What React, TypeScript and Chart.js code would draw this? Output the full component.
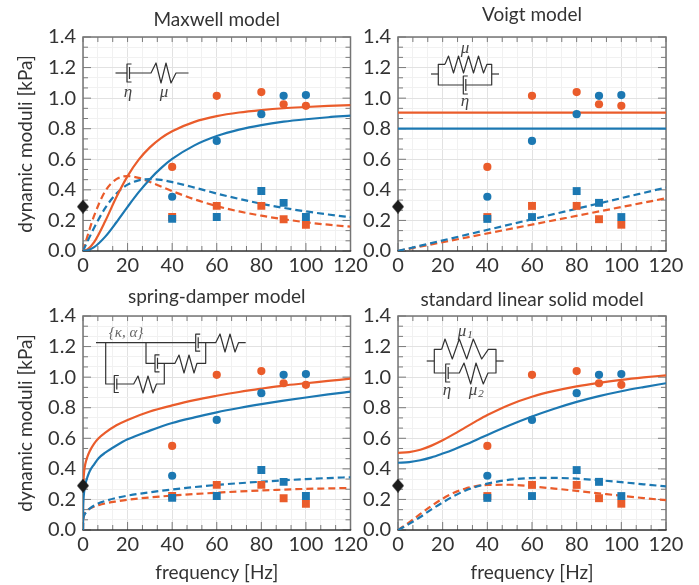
import React, { useEffect, useRef } from "react";
import { Chart, registerables } from "chart.js";

Chart.register(...registerables);

const BLUE = "#1c78b2";
const ORANGE = "#ea5c2b";
const TEXT = "#333333";
const FONT = "Lato";

const freqMarkers = [40, 60, 80, 90, 100];
const storageBlue = [0.355, 0.72, 0.895, 1.015, 1.02];
const storageOrange = [0.55, 1.015, 1.04, 0.96, 0.95];
const lossBlue = [0.21, 0.222, 0.392, 0.315, 0.222];
const lossOrange = [0.222, 0.295, 0.295, 0.208, 0.172];
const referenceFreq = [0];
const referenceValue = [0.29];

const freqMaxwell = [0, 2, 5, 10, 15, 20, 25, 30, 35, 40, 50, 60, 70, 80, 90, 100, 110, 120];
const maxwellStorageBlue = [0, 0.004, 0.025, 0.094, 0.188, 0.289, 0.385, 0.47, 0.542, 0.602, 0.691, 0.752, 0.794, 0.824, 0.846, 0.862, 0.875, 0.885];
const maxwellLossBlue = [0, 0.062, 0.152, 0.282, 0.376, 0.434, 0.462, 0.47, 0.465, 0.451, 0.415, 0.376, 0.341, 0.309, 0.282, 0.259, 0.239, 0.221];
const maxwellStorageOrange = [0, 0.01, 0.058, 0.196, 0.353, 0.49, 0.598, 0.678, 0.739, 0.784, 0.845, 0.882, 0.906, 0.922, 0.934, 0.942, 0.949, 0.954];
const maxwellLossOrange = [0, 0.097, 0.231, 0.392, 0.47, 0.49, 0.478, 0.452, 0.422, 0.392, 0.338, 0.294, 0.259, 0.231, 0.208, 0.188, 0.172, 0.159];

const freqVoigt = [0, 120];
const voigtStorageBlue = [0.8, 0.8];
const voigtLossBlue = [0, 0.415];
const voigtStorageOrange = [0.905, 0.905];
const voigtLossOrange = [0, 0.345];

const freqSpring = [0, 0.05, 0.1, 0.2, 0.5, 1, 2, 3, 5, 7, 10, 15, 20, 30, 40, 50, 60, 70, 80, 90, 100, 110, 120];
const springStorageBlue = [0, 0.14, 0.17, 0.2, 0.25, 0.294, 0.347, 0.385, 0.43, 0.47, 0.506, 0.553, 0.593, 0.65, 0.7, 0.737, 0.77, 0.798, 0.823, 0.846, 0.867, 0.887, 0.905];
const springStorageOrange = [0, 0.25, 0.29, 0.325, 0.38, 0.43, 0.48, 0.515, 0.565, 0.6, 0.637, 0.685, 0.72, 0.775, 0.815, 0.85, 0.878, 0.903, 0.925, 0.945, 0.96, 0.975, 0.99];
const springLossBlue = [0, 0.05, 0.065, 0.078, 0.095, 0.108, 0.127, 0.14, 0.16, 0.175, 0.19, 0.21, 0.225, 0.247, 0.265, 0.281, 0.295, 0.306, 0.316, 0.325, 0.333, 0.34, 0.345];
const springLossOrange = [0, 0.05, 0.065, 0.078, 0.098, 0.115, 0.13, 0.14, 0.153, 0.163, 0.174, 0.187, 0.198, 0.213, 0.225, 0.235, 0.244, 0.252, 0.259, 0.264, 0.269, 0.272, 0.275];

const freqSls = [0, 5, 10, 15, 20, 25, 30, 35, 40, 50, 60, 70, 80, 90, 100, 110, 120];
const slsStorageBlue = [0.44, 0.444, 0.456, 0.475, 0.5, 0.527, 0.557, 0.589, 0.622, 0.685, 0.742, 0.793, 0.838, 0.876, 0.908, 0.935, 0.96];
const slsStorageOrange = [0.505, 0.51, 0.525, 0.552, 0.587, 0.627, 0.67, 0.712, 0.752, 0.82, 0.872, 0.91, 0.94, 0.963, 0.982, 0.998, 1.012];
const slsLossBlue = [0, 0.04, 0.085, 0.135, 0.18, 0.222, 0.257, 0.283, 0.303, 0.329, 0.34, 0.341, 0.336, 0.326, 0.313, 0.299, 0.285];
const slsLossOrange = [0, 0.05, 0.105, 0.158, 0.205, 0.243, 0.27, 0.287, 0.295, 0.296, 0.285, 0.271, 0.256, 0.24, 0.224, 0.209, 0.195];

const xTicks = [0, 20 / 3, 40 / 3, 20, 80 / 3, 100 / 3, 40, 140 / 3, 160 / 3, 60, 200 / 3, 220 / 3, 80, 260 / 3, 280 / 3, 100, 320 / 3, 340 / 3, 120];
const yTicks = [0, 0.0667, 0.1333, 0.2, 0.2667, 0.3333, 0.4, 0.4667, 0.5333, 0.6, 0.6667, 0.7333, 0.8, 0.8667, 0.9333, 1.0, 1.0667, 1.1333, 1.2, 1.2667, 1.3333, 1.4];

const isMajorX = (v: number) => Math.abs(v / 20 - Math.round(v / 20)) < 1e-6;
const isMajorY = (v: number) => Math.abs(v / 0.2 - Math.round(v / 0.2)) < 1e-3;

const pts = (xs: number[], ys: number[]) => xs.map((x, i) => ({ x, y: ys[i] }));

const line = (xs: number[], ys: number[], color: string, dashed: boolean) => ({
  data: pts(xs, ys),
  showLine: true,
  borderColor: color,
  borderWidth: 2.2,
  borderDash: dashed ? [7, 4] : [],
  pointRadius: 0,
  tension: xs.length > 2 ? 0.4 : 0,
  cubicInterpolationMode: "monotone",
  order: 10,
});

function diamondImage() {
  const c = document.createElement("canvas");
  c.width = 12;
  c.height = 14;
  const g = c.getContext("2d") as CanvasRenderingContext2D;
  g.fillStyle = "#1c1c1c";
  g.beginPath();
  g.moveTo(6, 0);
  g.lineTo(12, 7);
  g.lineTo(6, 14);
  g.lineTo(0, 7);
  g.closePath();
  g.fill();
  return c;
}

const markerSets = () => [
  { data: pts(referenceFreq, referenceValue), pointStyle: diamondImage(), pointRadius: 6, clip: false, order: 0 },
  { data: pts(freqMarkers, storageBlue), pointStyle: "circle", pointRadius: 4.1, backgroundColor: BLUE, borderWidth: 0, order: 1 },
  { data: pts(freqMarkers, storageOrange), pointStyle: "circle", pointRadius: 4.1, backgroundColor: ORANGE, borderWidth: 0, order: 2 },
  { data: pts(freqMarkers, lossBlue), pointStyle: "rect", pointRadius: 5.6, backgroundColor: BLUE, borderWidth: 0, order: 1 },
  { data: pts(freqMarkers, lossOrange), pointStyle: "rect", pointRadius: 5.6, backgroundColor: ORANGE, borderWidth: 0, order: 2 },
];

type P = [number, number];

function stroke(ctx: CanvasRenderingContext2D, points: P[]) {
  ctx.beginPath();
  points.forEach((p, i) => (i ? ctx.lineTo(p[0], p[1]) : ctx.moveTo(p[0], p[1])));
  ctx.stroke();
}

function damper(ctx: CanvasRenderingContext2D, x: number, y: number, h: number) {
  stroke(ctx, [[x + 4.5, y - h], [x, y - h], [x, y + h], [x + 4.5, y + h]]);
  stroke(ctx, [[x + 2.5, y - h + 3], [x + 2.5, y + h - 3]]);
}

function label(ctx: CanvasRenderingContext2D, text: string, x: number, y: number, size = 17, color = "#444444") {
  ctx.font = `italic ${size}px "Liberation Serif"`;
  ctx.fillStyle = color;
  ctx.textAlign = "center";
  ctx.textBaseline = "middle";
  ctx.fillText(text, x, y);
}

const schematics: Record<string, (c: CanvasRenderingContext2D) => void> = {
  maxwell(c) {
    stroke(c, [[115.5, 73], [127, 73]]);
    damper(c, 127, 73, 9);
    stroke(c, [[129.5, 73], [151, 73], [156, 63], [161, 83], [166, 63], [171, 83], [176, 73], [188.5, 73]]);
    label(c, "η", 128, 93);
    label(c, "μ", 164, 93);
  },
  voigt(c) {
    stroke(c, [[431, 74], [438.3, 74]]);
    stroke(c, [[491.7, 74], [499, 74]]);
    stroke(c, [[445, 64.3], [438.3, 64.3], [438.3, 85], [463.3, 85]]);
    stroke(c, [[445, 64.3], [448.5, 56], [453.5, 73], [458.5, 56], [463.5, 73], [468.5, 56], [473.5, 73], [478.5, 56], [483.5, 73], [487, 64.3], [491.7, 64.3], [491.7, 85], [466, 85]]);
    damper(c, 463.3, 85, 9);
    label(c, "μ", 465, 49);
    label(c, "η", 465, 102);
  },
  spring(c) {
    stroke(c, [[96, 342.7], [195.7, 342.7]]);
    damper(c, 195.7, 342.7, 8.5);
    stroke(c, [[198, 342.7], [215.7, 342.7], [220, 334], [225, 352], [230, 334], [235, 352], [238.5, 342.7], [245.7, 342.7]]);
    stroke(c, [[205.7, 342.7], [205.7, 363.3], [197, 363.3], [194, 373], [189, 355], [184, 373], [179, 355], [175, 363.3], [157, 363.3]]);
    damper(c, 155, 363.3, 8.5);
    stroke(c, [[155, 363.3], [146, 363.3], [146, 342.7]]);
    stroke(c, [[164.3, 363.3], [164.3, 384], [156.5, 384], [153, 393], [148, 376], [143, 393], [138, 376], [133.7, 384], [116.5, 384]]);
    damper(c, 114.3, 384, 8.5);
    stroke(c, [[114.3, 384], [105.7, 384], [105.7, 342.7]]);
    label(c, "{κ, α}", 126, 333, 15, "#666666");
  },
  sls(c) {
    stroke(c, [[426.7, 361], [434.3, 361]]);
    stroke(c, [[496, 361], [503.7, 361]]);
    stroke(c, [[441.7, 349.3], [434.3, 349.3], [434.3, 373], [445.7, 373]]);
    stroke(c, [[441.7, 349.3], [445, 339], [452.3, 359], [459.3, 339], [466.7, 359], [473.3, 339], [481.7, 359], [488.3, 349.3], [496, 349.3], [496, 373], [488, 373], [483.3, 384], [476, 363], [470.7, 384], [464, 363], [459.3, 373], [448, 373]]);
    damper(c, 445.7, 373, 9);
    label(c, "μ", 462, 332);
    label(c, "1", 470, 335, 11);
    label(c, "η", 447, 391);
    label(c, "μ", 473, 391);
    label(c, "2", 481, 394, 11);
  },
};

const framePlugin = {
  id: "frame",
  beforeDatasetsDraw(chart: any, _a: any, opts: any) {
    const { ctx, chartArea: a, scales } = chart;
    ctx.save();
    ctx.strokeStyle = "#7a7a7a";
    ctx.lineWidth = 1;
    scales.x.ticks.forEach((t: any) => {
      const x = scales.x.getPixelForValue(t.value);
      const len = isMajorX(t.value) ? 8 : 5;
      stroke(ctx, [[x, a.top], [x, a.top + 5]]);
      stroke(ctx, [[x, a.bottom], [x, a.bottom - len]]);
    });
    scales.y.ticks.forEach((t: any) => {
      const y = scales.y.getPixelForValue(t.value);
      const len = isMajorY(t.value) ? 8 : 5;
      stroke(ctx, [[a.left, y], [a.left + len, y]]);
      stroke(ctx, [[a.right, y], [a.right - len, y]]);
    });
    ctx.lineWidth = 1.5;
    ctx.strokeStyle = "#757575";
    stroke(ctx, [[a.left, a.bottom], [a.left, a.top], [a.right, a.top], [a.right, a.bottom]]);
    ctx.strokeStyle = "#333333";
    stroke(ctx, [[a.left - 0.7, a.bottom], [a.right + 0.7, a.bottom]]);
    ctx.translate(-opts.offsetX, -opts.offsetY);
    ctx.strokeStyle = "#333333";
    ctx.lineWidth = 1.2;
    ctx.lineJoin = "round";
    schematics[opts.schematic](ctx);
    ctx.restore();
  },
};

type Panel = {
  title: string;
  titleTop: number;
  titleBottom: number;
  schematic: string;
  left: number;
  top: number;
  width: number;
  height: number;
  axisLeft: number;
  axisBottom: number;
  padRight: number;
  yTitle: boolean;
  xTitle: boolean;
  lines: any[];
};

const panels: Panel[] = [
  {
    title: "Maxwell model", titleTop: 8.6, titleBottom: 5.6, schematic: "maxwell",
    left: 0, top: 0, width: 372, height: 285, axisLeft: 83, axisBottom: 34, padRight: 21.5, yTitle: true, xTitle: false,
    lines: [
      line(freqMaxwell, maxwellStorageBlue, BLUE, false), line(freqMaxwell, maxwellStorageOrange, ORANGE, false),
      line(freqMaxwell, maxwellLossBlue, BLUE, true), line(freqMaxwell, maxwellLossOrange, ORANGE, true),
    ],
  },
  {
    title: "Voigt model", titleTop: 3.6, titleBottom: 10.6, schematic: "voigt",
    left: 360, top: 0, width: 339, height: 285, axisLeft: 38, axisBottom: 34, padRight: 33, yTitle: false, xTitle: false,
    lines: [
      line(freqVoigt, voigtStorageBlue, BLUE, false), line(freqVoigt, voigtStorageOrange, ORANGE, false),
      line(freqVoigt, voigtLossBlue, BLUE, true), line(freqVoigt, voigtLossOrange, ORANGE, true),
    ],
  },
  {
    title: "spring-damper model", titleTop: 0, titleBottom: 8.2, schematic: "spring",
    left: 0, top: 285, width: 372, height: 300, axisLeft: 83, axisBottom: 55, padRight: 21.5, yTitle: true, xTitle: true,
    lines: [
      line(freqSpring, springStorageBlue, BLUE, false), line(freqSpring, springStorageOrange, ORANGE, false),
      line(freqSpring, springLossBlue, BLUE, true), line(freqSpring, springLossOrange, ORANGE, true),
    ],
  },
  {
    title: "standard linear solid model", titleTop: 3.6, titleBottom: 4.6, schematic: "sls",
    left: 360, top: 285, width: 339, height: 300, axisLeft: 38, axisBottom: 55, padRight: 33, yTitle: false, xTitle: true,
    lines: [
      line(freqSls, slsStorageBlue, BLUE, false), line(freqSls, slsStorageOrange, ORANGE, false),
      line(freqSls, slsLossBlue, BLUE, true), line(freqSls, slsLossOrange, ORANGE, true),
    ],
  },
];

function PanelChart({ panel }: { panel: Panel }) {
  const ref = useRef<HTMLCanvasElement | null>(null);
  useEffect(() => {
    const chart = new Chart(ref.current as HTMLCanvasElement, {
      type: "scatter",
      data: { datasets: [...markerSets(), ...panel.lines] as any },
      plugins: [framePlugin as any],
      options: {
        animation: false,
        responsive: false,
        layout: { padding: { right: panel.padRight, top: 0, bottom: 0, left: 0 } },
        plugins: {
          legend: { display: false },
          tooltip: { enabled: false },
          title: {
            display: true,
            text: panel.title,
            fullSize: false,
            color: TEXT,
            font: { family: FONT, size: 19, weight: "normal", lineHeight: 1.2 },
            padding: { top: panel.titleTop, bottom: panel.titleBottom },
          },
          frame: { schematic: panel.schematic, offsetX: panel.left, offsetY: panel.top },
        } as any,
        scales: {
          x: {
            type: "linear",
            min: 0,
            max: 120,
            afterBuildTicks: (s: any) => { s.ticks = xTicks.map((value) => ({ value })); },
            afterFit: (s: any) => { s.height = panel.axisBottom; },
            ticks: {
              autoSkip: false,
              maxRotation: 0,
              padding: 3,
              color: TEXT,
              font: { family: FONT, size: 20 },
              callback: (v: any) => (isMajorX(Number(v)) ? String(Math.round(Number(v))) : ""),
            },
            grid: {
              drawTicks: false,
              color: (c: any) => (isMajorX(c.tick.value) ? "#e2e2e2" : "#f1f1f1"),
            },
            border: { display: false },
            title: {
              display: panel.xTitle,
              text: "frequency [Hz]",
              color: TEXT,
              font: { family: FONT, size: 19, weight: "normal", lineHeight: 1.2 },
              padding: { top: 0, bottom: 1 },
            },
          },
          y: {
            type: "linear",
            min: 0,
            max: 1.4,
            afterBuildTicks: (s: any) => { s.ticks = yTicks.map((value) => ({ value })); },
            afterFit: (s: any) => { s.width = panel.axisLeft; },
            ticks: {
              autoSkip: false,
              padding: 7,
              color: TEXT,
              font: { family: FONT, size: 20 },
              callback: (v: any) => (isMajorY(Number(v)) ? Number(v).toFixed(1) : ""),
            },
            grid: {
              drawTicks: false,
              color: (c: any) => (isMajorY(c.tick.value) ? "#e2e2e2" : "#f1f1f1"),
            },
            border: { display: false },
            title: {
              display: panel.yTitle,
              text: "dynamic moduli [kPa]",
              color: TEXT,
              font: { family: FONT, size: 19, weight: "normal", lineHeight: 1.2 },
              padding: { top: 14, bottom: 0 },
            },
          },
        },
      },
    });
    return () => chart.destroy();
  }, [panel]);
  return (
    <canvas
      ref={ref}
      width={panel.width}
      height={panel.height}
      style={{ position: "absolute", left: panel.left, top: panel.top, width: panel.width, height: panel.height }}
    />
  );
}

export default function App() {
  return (
    <div style={{ position: "fixed", left: 0, top: 0, width: 699, height: 585, background: "#ffffff", overflow: "hidden" }}>
      {panels.map((p) => (
        <PanelChart key={p.title} panel={p} />
      ))}
    </div>
  );
}
